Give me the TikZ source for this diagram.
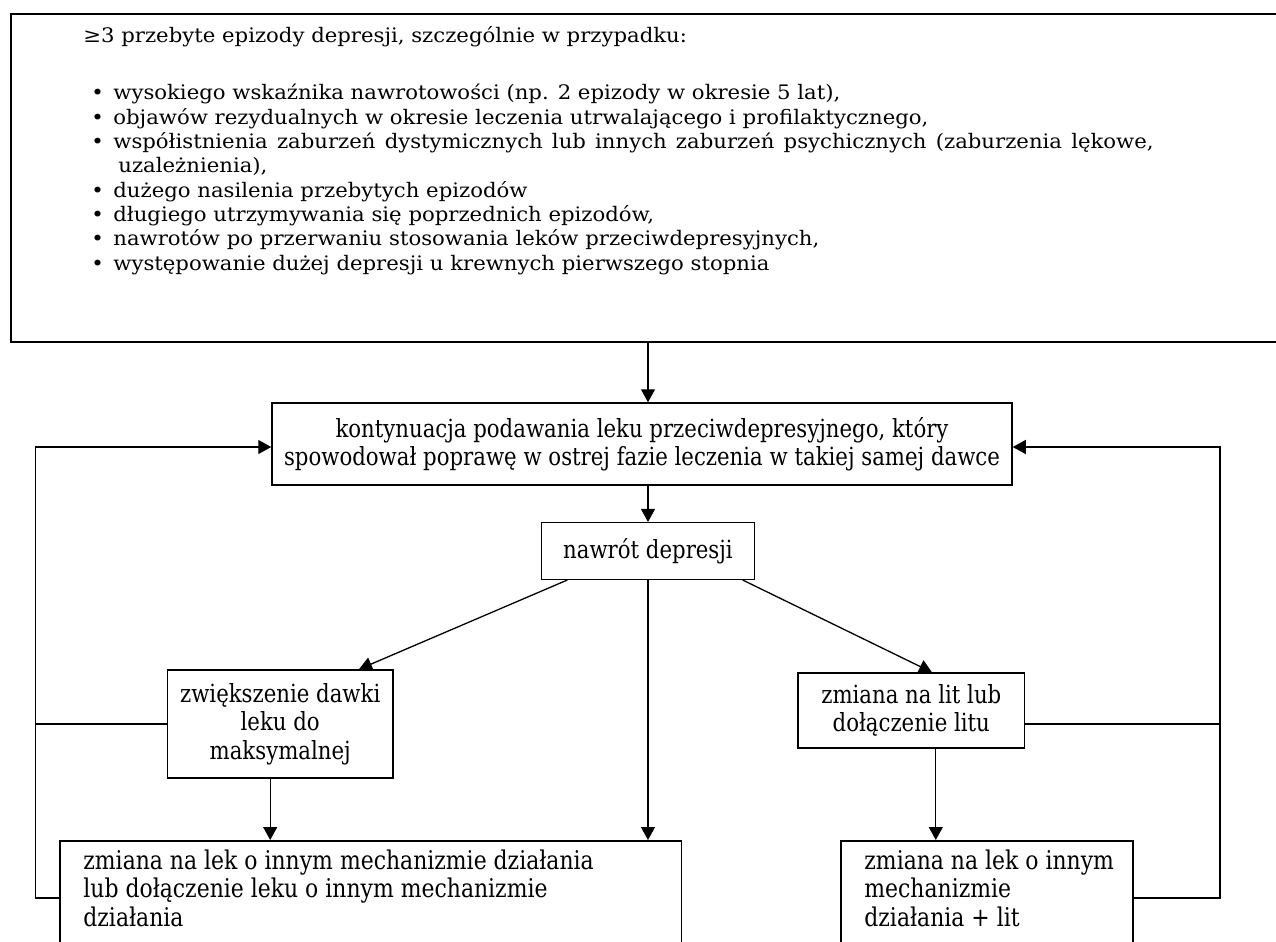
\documentclass[tikz,border=0pt]{standalone}
\usepackage{fontspec}
\setmainfont{DejaVu Serif}
\newfontfamily\boxfont[FakeStretch=0.85]{DejaVu Serif}
\newfontfamily\topfont[FakeStretch=1.06]{DejaVu Serif}
\usetikzlibrary{arrows.meta}
\begin{document}
\begin{tikzpicture}[x=0.5pt,y=-0.5pt,
  box/.style={draw,line width=0.75pt,inner sep=0pt},
  boxtext/.style={inner sep=0pt,font=\boxfont\fontsize{12.5pt}{14.2pt}\selectfont},
  lowtext/.style={inner sep=0pt,font=\boxfont\fontsize{12.9pt}{14.2pt}\selectfont},
  arr/.style={-{Triangle[width=7pt,length=6.5pt]},line width=0.65pt},
  ln/.style={line width=0.65pt}]
\useasboundingbox (0,0) rectangle (1276,942);
\clip (0,0) rectangle (1276,942);
% top box
\node[box,minimum width=640pt,minimum height=164pt,anchor=north west] (top) at (10,13) {};
\node[inner sep=0pt,anchor=base west,align=left,font=\topfont\fontsize{10pt}{12.15pt}\selectfont] (toptext) at (83,270)
 {≥3 przebyte epizody depresji, szczególnie w przypadku:\\[16.35pt]
  \hspace*{4pt}\makebox[11pt][l]{•}wysokiego wskaźnika nawrotowości (np. 2 epizody w okresie 5 lat),\\
  \hspace*{4pt}\makebox[11pt][l]{•}objawów rezydualnych w okresie leczenia utrwalającego i profilaktycznego,\\
  \hspace*{4pt}\makebox[11pt][l]{•}{\spaceskip=4.6pt\relax współistnienia zaburzeń dystymicznych lub innych zaburzeń psychicznych (zaburzenia lękowe,}\\
  \hspace*{17.5pt}uzależnienia),\\
  \hspace*{4pt}\makebox[11pt][l]{•}dużego nasilenia przebytych epizodów\\
  \hspace*{4pt}\makebox[11pt][l]{•}długiego utrzymywania się poprzednich epizodów,\\
  \hspace*{4pt}\makebox[11pt][l]{•}nawrotów po przerwaniu stosowania leków przeciwdepresyjnych,\\
  \hspace*{4pt}\makebox[11pt][l]{•}występowanie dużej depresji u krewnych pierwszego stopnia};
% box A
\node[box,boxtext,align=center,minimum width=370pt,minimum height=41pt] (A) at (642,444)
 {kontynuacja podawania leku przeciwdepresyjnego, który\\spowodował poprawę w ostrej fazie leczenia w takiej samej dawce};
% box B
\node[box,boxtext,align=center,minimum width=106.3pt,minimum height=28.3pt] (B) at (648,551) {nawrót depresji};
% box C
\node[box,boxtext,align=center,minimum width=112.8pt,minimum height=54pt] (C) at (280.2,724)
 {zwiększenie dawki\\leku do\\maksymalnej};
% box D
\node[box,boxtext,align=center,minimum width=113.3pt,minimum height=37.35pt] (D) at (911.3,710.4)
 {zmiana na lit lub\\dołączenie litu};
% box E
\node[box,minimum width=310.6pt,minimum height=80pt,anchor=north west] (E) at (59.4,840) {};
\node[lowtext,align=left,anchor=base west] (Etext) at (83,926)
 {zmiana na lek o innym mechanizmie działania\\lub dołączenie leku o innym mechanizmie\\działania};
% box F
\node[box,minimum width=146pt,minimum height=80pt,anchor=north west] (F) at (840,840) {};
\node[lowtext,align=left,anchor=base west] (Ftext) at (864,926)
 {zmiana na lek o innym\\mechanizmie\\działania + lit};
% connectors
\draw[arr] (top.south -| B.north) -- (A.north -| B.north);
\draw[arr] (A.south -| B.north) -- (B.north);
\draw[arr] ([xshift=13.15pt]B.south west) -- ([xshift=39.4pt]C.north);
\draw[arr] ([xshift=-6.15pt]B.south east) -- ([xshift=10.35pt]D.north);
\draw[arr] (B.south) -- (B.south |- E.north);
\draw[arr] ([xshift=-5pt]C.south) -- ([xshift=-5pt]C.south |- E.north);
\draw[arr] ([xshift=12.25pt]D.south) -- ([xshift=12.25pt]D.south |- F.north);
% feedback loops
\coordinate (lbot) at (35.7,898);
\coordinate (rbot) at (1220,898);
\draw[arr] (lbot -| E.west) -- (lbot) |- ([yshift=-1.5pt]A.west);
\draw[ln] (C.west) -- (C.west -| lbot);
\draw[arr] (rbot -| F.east) -- (rbot) |- ([yshift=-1.5pt]A.east);
\draw[ln] (D.east |- C.west) -- (C.west -| rbot);
\end{tikzpicture}
\end{document}
